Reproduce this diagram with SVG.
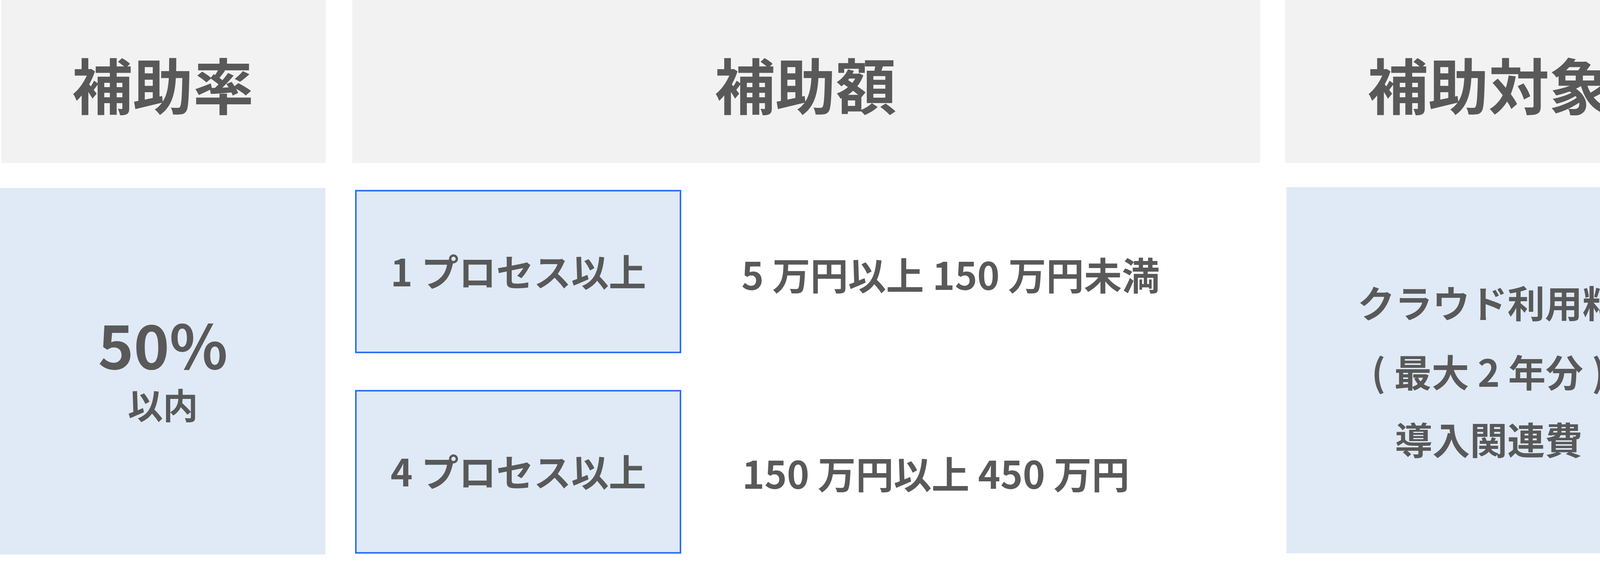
<svg xmlns="http://www.w3.org/2000/svg" width="4339" height="1464" viewBox="0 0 4339 1464">
<style>
.h{fill:#f2f2f2}
.b{fill:#dfeaf6}
.bx{fill:#dfeaf6;stroke:#2f6ef2;stroke-width:4}
text{font-family:"Noto Sans CJK JP","Noto Sans",sans-serif;font-weight:700;fill:#595959}
.t1{font-size:155px;text-anchor:middle}
.t2{font-size:96px;text-anchor:middle}
.t3{font-size:97px}
</style>
<rect width="4339" height="1464" fill="#fff"/>
<g id="header-rate"><rect class="h" x="3" y="0" width="831" height="417"/><text class="t1" x="417" y="280">補助率</text></g>
<g id="header-amount"><rect class="h" x="902" y="0" width="2324" height="417"/><text class="t1" x="2062" y="280">補助額</text></g>
<g id="header-target"><rect class="h" x="3290" y="0" width="1040" height="417"/><text class="t1" x="3811" y="280">補助対象</text></g>
<g id="rate"><rect class="b" x="0" y="481" width="833" height="938"/><text class="t1" x="417" y="945">50%</text><text class="t2" x="417" y="1072" style="font-size:90px">以内</text></g>
<g id="proc1"><rect class="bx" x="911" y="488" width="831" height="414"/><text class="t2" x="1327" y="733">1 プロセス以上</text></g>
<g id="proc4"><rect class="bx" x="911" y="1000" width="831" height="415"/><text class="t2" x="1327" y="1245">4 プロセス以上</text></g>
<g id="amt1"><text class="t3" x="1898" y="742">5 万円以上 150 万円未満</text></g>
<g id="amt2"><text class="t3" x="1900" y="1251">150 万円以上 450 万円</text></g>
<g id="target"><rect class="b" x="3293" y="479" width="1037" height="937"/>
<text class="t2" x="3811" y="813">クラウド利用料</text>
<text class="t2" x="3811" y="990">( 最大 2 年分 )</text>
<text class="t2" x="3811" y="1163">導入関連費</text></g>
<g id="connectors"/>
</svg>
